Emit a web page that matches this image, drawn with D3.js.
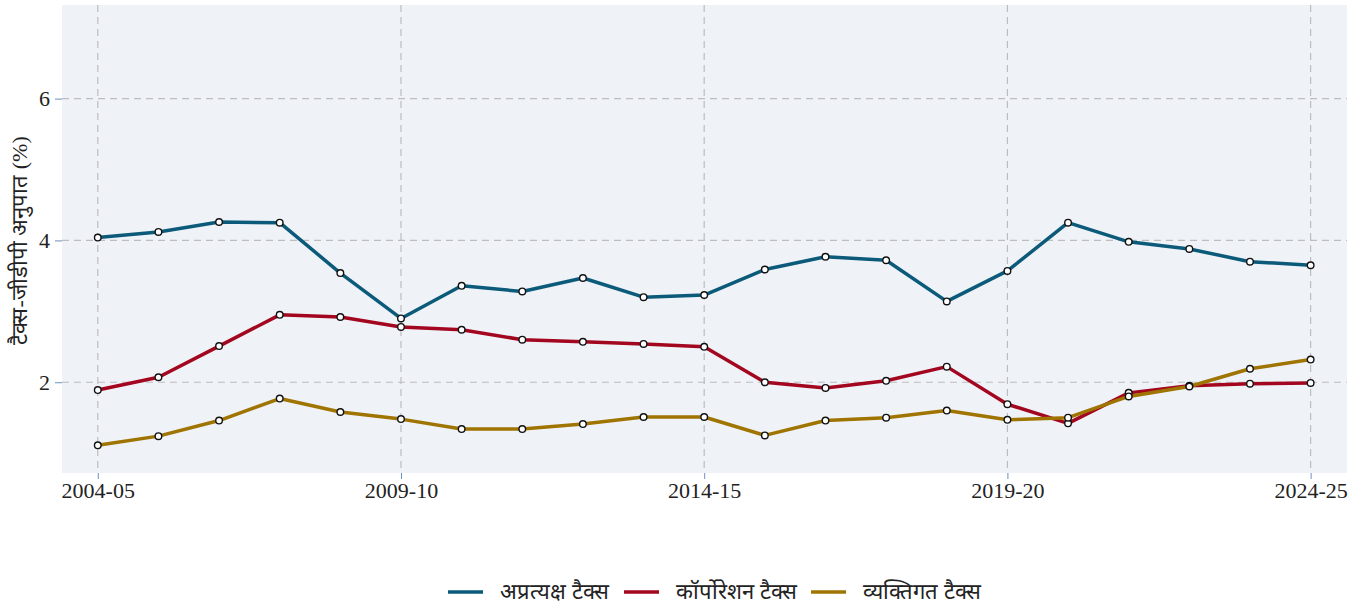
<!DOCTYPE html>
<html>
<head>
<meta charset="utf-8">
<script src="https://cdn.jsdelivr.net/npm/d3@7"></script>
<style>
body { margin: 0; background: #fff; }
text { font-family: "Liberation Serif", "Times New Roman", serif; }
</style>
</head>
<body>
<script>
// data
var years = ["2004-05","2005-06","2006-07","2007-08","2008-09","2009-10","2010-11","2011-12","2012-13","2013-14",
             "2014-15","2015-16","2016-17","2017-18","2018-19","2019-20","2020-21","2021-22","2022-23","2023-24","2024-25"];
var indirect = [4.04,4.12,4.26,4.25,3.54,2.90,3.36,3.28,3.47,3.20,3.23,3.59,3.77,3.72,3.14,3.57,4.25,3.98,3.88,3.70,3.65];
var corporate = [1.89,2.07,2.51,2.95,2.92,2.78,2.74,2.60,2.57,2.54,2.50,2.00,1.92,2.02,2.22,1.69,1.42,1.85,1.95,1.98,1.99];
var personal = [1.11,1.24,1.46,1.77,1.58,1.48,1.34,1.34,1.41,1.51,1.51,1.25,1.46,1.50,1.60,1.47,1.50,1.80,1.94,2.19,2.32];
var seriesNames = ["अप्रत्यक्ष टैक्स", "कॉर्पोरेशन टैक्स", "व्यक्तिगत टैक्स"];
var colors = ["#0c5a7a", "#a3071f", "#a07400"];
var yTicks = [2, 4, 6];
var xTickLabels = ["2004-05","2009-10","2014-15","2019-20","2024-25"];

var W = 1362, H = 603;
var margin = {left: 62, right: 15, top: 5, bottom: 130};
var width = W - margin.left - margin.right;
var height = H - margin.top - margin.bottom;

var svg = d3.select("body").append("svg")
    .attr("width", W).attr("height", H);

var g = svg.append("g")
    .attr("transform", "translate(" + margin.left + "," + margin.top + ")");

var x = d3.scaleLinear().domain([-0.59, 20.6]).range([0, width]);
var y = d3.scaleLinear().domain([0.72, 7.32]).range([height, 0]);

// plot background
g.append("rect")
    .attr("width", width).attr("height", height)
    .attr("fill", "#eff3f8");

// grid
g.selectAll(".hgrid").data(yTicks).enter().append("line")
    .attr("x1", 0).attr("x2", width)
    .attr("y1", function(d) { return y(d); }).attr("y2", function(d) { return y(d); })
    .attr("stroke", "#bdbdbd").attr("stroke-width", 1.2).attr("stroke-dasharray", "7,5");

g.selectAll(".vgrid").data(xTickLabels).enter().append("line")
    .attr("x1", function(d) { return x(years.indexOf(d)); })
    .attr("x2", function(d) { return x(years.indexOf(d)); })
    .attr("y1", 0).attr("y2", height)
    .attr("stroke", "#bdbdbd").attr("stroke-width", 1.2).attr("stroke-dasharray", "7,5");

// axes
var yAxis = d3.axisLeft(y).tickValues(yTicks).tickFormat(d3.format("d")).tickSize(7).tickPadding(5);
var xAxis = d3.axisBottom(x)
    .tickValues(xTickLabels.map(function(d) { return years.indexOf(d); }))
    .tickFormat(function(i) { return years[i]; })
    .tickSize(6).tickPadding(3);

var ya = g.append("g").call(yAxis);
var xa = g.append("g").attr("transform", "translate(0," + height + ")").call(xAxis);
[ya, xa].forEach(function(a) {
  a.select(".domain").remove();
  a.selectAll(".tick line").attr("stroke", "#6f8fc0");
  a.selectAll("text").attr("fill", "#222").style("font-size", "22px")
    .style("font-family", "'Liberation Serif', serif");
});

// y label
svg.append("text")
    .attr("transform", "rotate(-90)")
    .attr("x", -(margin.top + y(4)))
    .attr("y", 27)
    .attr("text-anchor", "middle")
    .attr("fill", "#222")
    .style("font-size", "22px")
    .text("टैक्स-जीडीपी अनुपात (%)");

// lines + markers
var allSeries = [indirect, corporate, personal];
var line = d3.line()
    .x(function(d, i) { return x(i); })
    .y(function(d) { return y(d); });

allSeries.forEach(function(s, k) {
  g.append("path")
      .datum(s)
      .attr("d", line)
      .attr("fill", "none")
      .attr("stroke", colors[k])
      .attr("stroke-width", 3.5)
      .attr("stroke-linejoin", "round");
});
allSeries.forEach(function(s, k) {
  g.selectAll(".pt" + k).data(s).enter().append("circle")
      .attr("cx", function(d, i) { return x(i); })
      .attr("cy", function(d) { return y(d); })
      .attr("r", 3.3)
      .attr("fill", "#fff")
      .attr("stroke", "#111")
      .attr("stroke-width", 1.4);
});

// legend
var legendX = [448, 624, 811];
var legend = svg.selectAll(".legend").data(seriesNames).enter().append("g")
    .attr("transform", function(d, i) { return "translate(" + legendX[i] + ",592)"; });
legend.append("line")
    .attr("x1", 0).attr("x2", 35).attr("y1", 0).attr("y2", 0)
    .attr("stroke", function(d, i) { return colors[i]; })
    .attr("stroke-width", 3.5);
legend.append("text")
    .attr("x", 52).attr("y", 7)
    .attr("fill", "#222")
    .style("font-size", "22px")
    .text(function(d) { return d; });
</script>
</body>
</html>
